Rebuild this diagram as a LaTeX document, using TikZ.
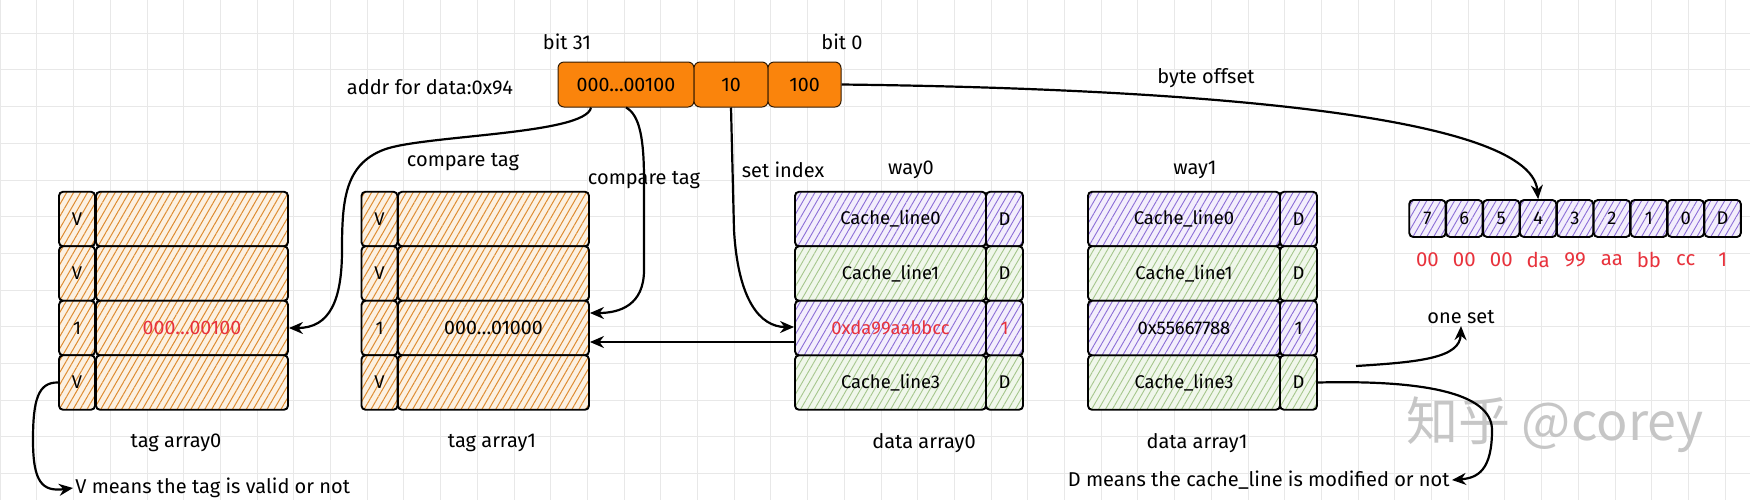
\documentclass[tikz,border=0pt]{standalone}
\usepackage{fontspec}
\setmainfont{Fira Sans}
\newfontfamily\cjkfont{Noto Sans CJK SC}
\usetikzlibrary{patterns.meta,arrows.meta,calc}
\definecolor{orangebox}{RGB}{250,132,12}
\definecolor{tagbg}{RGB}{252,241,226}
\definecolor{taghatch}{RGB}{222,140,50}
\definecolor{purbg}{RGB}{243,238,252}
\definecolor{purhatch}{RGB}{140,110,215}
\definecolor{grnbg}{RGB}{240,247,235}
\definecolor{grnhatch}{RGB}{165,198,140}
\definecolor{redtxt}{RGB}{232,50,60}
\definecolor{gridc}{RGB}{232,232,232}
\begin{document}
\begin{tikzpicture}[x=0.5pt,y=-0.5pt,
  lbl/.style={inner sep=1pt, font=\fontsize{10}{11}\selectfont},
  cellbase/.style={draw=black, line width=0.95pt, rounded corners=2pt, inner sep=0pt, font=\fontsize{9.2}{10}\selectfont},
  tagcell/.style={cellbase, preaction={fill=tagbg}, pattern={Lines[angle=60,distance=3pt,line width=0.5pt]}, pattern color=taghatch},
  purcell/.style={cellbase, preaction={fill=purbg}, pattern={Lines[angle=60,distance=3pt,line width=0.45pt]}, pattern color=purhatch},
  grncell/.style={cellbase, preaction={fill=grnbg}, pattern={Lines[angle=60,distance=3pt,line width=0.45pt]}, pattern color=grnhatch},
  addrbox/.style={draw=black!80!orangebox, line width=0.5pt, fill=orangebox, rounded corners=3pt, inner sep=0pt, minimum height=22.5pt, font=\fontsize{9.8}{11}\selectfont},
  redlbl/.style={inner sep=1pt, text=redtxt, font=\fontsize{10.2}{11}\selectfont},
  conn/.style={draw=black, line width=1.1pt, -{Stealth[length=7pt,width=6pt]}},
  gridline/.style={draw=gridc, line width=0.3pt}
]
\useasboundingbox (0,0) rectangle (1750,500);
\fill[white] (0,0) rectangle (1750,500);
% background grid
\foreach \k in {0,...,48} \draw[gridline] ({\k*36.7},0) -- ({\k*36.7},500);
\foreach \k in {0,...,14} \draw[gridline] (0,{\k*36.7-3.7}) -- (1750,{\k*36.7-3.7});

% address fields
\node[addrbox, minimum width=68pt] (aTag) at (626,84.5) {000…00100};
\node[addrbox, minimum width=37pt] (aSet) at (731,84.5) {10};
\node[addrbox, minimum width=36.5pt] (aOff) at (804.5,84.5) {100};
\node[lbl] (bit31) at (567,42) {bit 31};
\node[lbl] (bit0) at (842,42) {bit 0};
\node[lbl] (addr) at (430,87) {addr for data:0x94};
\node[lbl] (boff) at (1206,78) {byte offset};
\node[lbl] (cmp0) at (463,162) {compare tag};
\node[lbl] (cmp1) at (644,180) {compare tag};
\node[lbl] (setidx) at (783,170) {set index};
\node[lbl] (way0) at (911,170) {way0};
\node[lbl] (way1) at (1195,170) {way1};

% tag arrays
\foreach \r/\yy/\v in {0/219/V,1/273.5/V,2/328/1,3/382.5/V} {
  \node[tagcell, minimum width=18pt, minimum height=27.25pt] (t0v\r) at (77,\yy) {\v};
  \node[tagcell, minimum width=96pt, minimum height=27.25pt] (t0m\r) at (192,\yy) {};
  \node[tagcell, minimum width=18pt, minimum height=27.25pt] (t1v\r) at (379.5,\yy) {\v};
  \node[tagcell, minimum width=95.5pt, minimum height=27.25pt] (t1m\r) at (493.5,\yy) {};
}
\node[redlbl, font=\fontsize{9.8}{11}\selectfont] (t0val) at (t0m2) {000…00100};
\node[lbl, font=\fontsize{9.8}{11}\selectfont] (t1val) at (t1m2) {000…01000};

% data array0 / data array1
\foreach \r/\yy/\st/\txt/\dd in {0/219/purcell/Cache\_line0/D,1/273.5/grncell/Cache\_line1/D,3/382.5/grncell/Cache\_line3/D} {
  \node[\st, minimum width=95.5pt, minimum height=27.25pt] (d0m\r) at (890.5,\yy) {\txt};
  \node[\st, minimum width=18.5pt, minimum height=27.25pt] (d0d\r) at (1004.5,\yy) {\dd};
  \node[\st, minimum width=96pt, minimum height=27.25pt] (d1m\r) at (1184,\yy) {\txt};
  \node[\st, minimum width=18.5pt, minimum height=27.25pt] (d1d\r) at (1298.5,\yy) {\dd};
}
\node[purcell, minimum width=95.5pt, minimum height=27.25pt, text=redtxt] (d0m2) at (890.5,328) {0xda99aabbcc};
\node[purcell, minimum width=18.5pt, minimum height=27.25pt, text=redtxt] (d0d2) at (1004.5,328) {1};
\node[purcell, minimum width=96pt, minimum height=27.25pt] (d1m2) at (1184,328) {0x55667788};
\node[purcell, minimum width=18.5pt, minimum height=27.25pt] (d1d2) at (1298.5,328) {1};

% array labels
\node[lbl] (tagA0) at (176,443) {tag array0};
\node[lbl] (tagA1) at (492,443) {tag array1};
\node[lbl] (datA0) at (924,443) {data array0};
\node[lbl] (datA1) at (1197,443) {data array1};

% byte cells
\foreach \lab [count=\i from 0] in {7,6,5,4,3,2,1,0,D} {
  \node[purcell, minimum width=18.2pt, minimum height=18.5pt] (b\i) at ({1427.45+\i*36.9},218.5) {\lab};
}
\foreach \v [count=\i from 0] in {00,00,00,da,99,aa,bb,cc,1} {
  \node[redlbl] (n\i) at ({1427.45+\i*36.9},260) {\v};
}

% notes
\node[lbl] (oneset) at (1461,317) {one set};
\node[lbl, anchor=west] (vnote) at (73,488) {V means the tag is valid or not};
\node[lbl, anchor=east] (dnote) at (1452,480) {D means the cache\_line is modified or not};
\node[text=gray!45, font=\cjkfont\fontsize{26}{28}\selectfont, inner sep=0pt] (wm) at (1555,425) {知乎 @corey};

% connectors
\draw[conn] ($(aTag.south)+(-35,0)$) .. controls (586,135) and (420,135) .. (383,150) .. controls (345,165) and (342,200) .. (342,250) .. controls (342,300) and (330,328) .. (t0m2.east);
\draw[conn] (aTag.south) .. controls (640,115) and (644,140) .. (644,180) -- (644,270) .. controls (644,305) and (620,313) .. ($(t1m2.east)+(0,-15)$);
\draw[conn] (aSet.south) -- (734,230) .. controls (738,300) and (760,327) .. ($(d0m2.west)+(0,-1)$);
\draw[conn] ($(d0m2.west)+(0,14)$) -- ($(t1m2.east)+(0,14)$);
\draw[conn] (aOff.east) .. controls (1150,88) and (1530,110) .. (b3.north);
\draw[conn] (t0v3.west) .. controls (38,382) and (33,400) .. (33,440) .. controls (33,482) and (42,492) .. (vnote.west);
\coordinate (osStart) at (1356,366);
\draw[conn] (osStart) .. controls (1420,362) and (1460,358) .. (oneset.south);
\draw[conn] (d1d3.east) .. controls (1420,380) and (1492,392) .. (1492,430) .. controls (1492,470) and (1478,478) .. (dnote.east);
\end{tikzpicture}
\end{document}
